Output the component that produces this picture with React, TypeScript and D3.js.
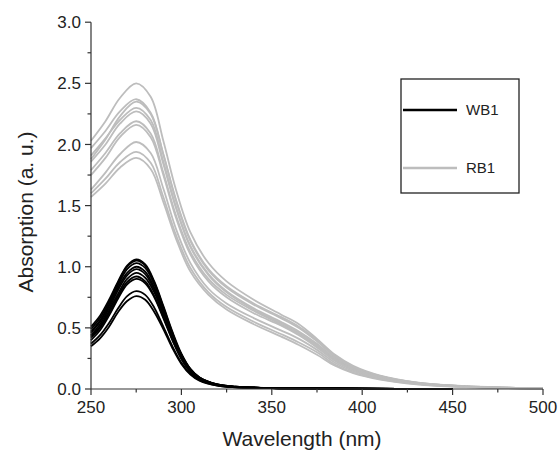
import React from "react";
import * as d3 from "d3";

// Wavelength grids (nm)
const grayWavelengths = [250, 258, 266, 275, 283, 290, 297, 305, 315, 325, 340, 355, 365, 375, 385, 395, 410, 430, 455, 500];
const blackWavelengths = [250, 255, 260, 265, 270, 275, 280, 285, 290, 295, 300, 305, 310, 320, 330, 350, 380, 420, 450];

// RB1 spectra (gray)
const rb1_1 = [2.03, 2.19, 2.38, 2.50, 2.39, 2.03, 1.63, 1.28, 1.03, 0.88, 0.73, 0.61, 0.53, 0.41, 0.28, 0.19, 0.11, 0.055, 0.025, 0.005];
const rb1_2 = [1.97, 2.11, 2.27, 2.37, 2.26, 1.92, 1.54, 1.21, 0.97, 0.83, 0.69, 0.58, 0.50, 0.39, 0.26, 0.18, 0.105, 0.052, 0.024, 0.005];
const rb1_3 = [1.88, 2.04, 2.23, 2.35, 2.25, 1.92, 1.55, 1.22, 0.98, 0.84, 0.70, 0.59, 0.51, 0.40, 0.27, 0.18, 0.105, 0.052, 0.024, 0.005];
const rb1_4 = [1.91, 2.05, 2.20, 2.30, 2.20, 1.86, 1.49, 1.17, 0.94, 0.80, 0.66, 0.55, 0.47, 0.37, 0.25, 0.17, 0.10, 0.05, 0.023, 0.004];
const rb1_5 = [1.86, 2.00, 2.17, 2.27, 2.17, 1.84, 1.48, 1.16, 0.93, 0.79, 0.65, 0.54, 0.46, 0.36, 0.24, 0.165, 0.098, 0.048, 0.022, 0.004];
const rb1_6 = [1.79, 1.93, 2.09, 2.19, 2.09, 1.77, 1.42, 1.12, 0.90, 0.77, 0.64, 0.53, 0.45, 0.35, 0.235, 0.16, 0.095, 0.047, 0.021, 0.004];
const rb1_7 = [1.75, 1.89, 2.06, 2.16, 2.06, 1.75, 1.40, 1.10, 0.88, 0.75, 0.62, 0.52, 0.44, 0.34, 0.23, 0.155, 0.092, 0.045, 0.02, 0.004];
const rb1_8 = [1.63, 1.77, 1.92, 2.02, 1.93, 1.64, 1.31, 1.03, 0.82, 0.70, 0.58, 0.48, 0.41, 0.32, 0.215, 0.145, 0.086, 0.042, 0.019, 0.003];
const rb1_9 = [1.60, 1.72, 1.855, 1.94, 1.85, 1.57, 1.26, 0.99, 0.79, 0.67, 0.55, 0.45, 0.38, 0.30, 0.20, 0.135, 0.08, 0.04, 0.018, 0.003];
const rb1_10 = [1.57, 1.68, 1.81, 1.89, 1.80, 1.53, 1.23, 0.96, 0.77, 0.65, 0.53, 0.43, 0.36, 0.28, 0.19, 0.13, 0.077, 0.038, 0.017, 0.003];

// WB1 spectra (black)
const wb1_1 = [0.51, 0.60, 0.73, 0.88, 1.01, 1.06, 1.02, 0.88, 0.68, 0.47, 0.29, 0.165, 0.095, 0.037, 0.019, 0.008, 0.004, 0.0015, 0];
const wb1_2 = [0.49, 0.58, 0.71, 0.87, 1.00, 1.05, 1.01, 0.87, 0.67, 0.46, 0.28, 0.16, 0.094, 0.037, 0.019, 0.008, 0.004, 0.0015, 0];
const wb1_3 = [0.47, 0.56, 0.69, 0.85, 0.98, 1.03, 0.99, 0.855, 0.66, 0.45, 0.28, 0.16, 0.093, 0.036, 0.019, 0.008, 0.004, 0.0015, 0];
const wb1_4 = [0.46, 0.55, 0.68, 0.83, 0.95, 1.00, 0.96, 0.83, 0.64, 0.44, 0.27, 0.155, 0.09, 0.035, 0.018, 0.008, 0.004, 0.0015, 0];
const wb1_5 = [0.44, 0.53, 0.66, 0.81, 0.93, 0.98, 0.94, 0.81, 0.63, 0.43, 0.265, 0.15, 0.088, 0.034, 0.018, 0.008, 0.004, 0.0015, 0];
const wb1_6 = [0.43, 0.51, 0.64, 0.78, 0.90, 0.95, 0.91, 0.79, 0.61, 0.42, 0.26, 0.147, 0.086, 0.033, 0.017, 0.008, 0.004, 0.0015, 0];
const wb1_7 = [0.42, 0.50, 0.62, 0.76, 0.875, 0.92, 0.88, 0.76, 0.59, 0.405, 0.25, 0.143, 0.083, 0.032, 0.017, 0.008, 0.004, 0.0015, 0];
const wb1_8 = [0.40, 0.48, 0.60, 0.74, 0.855, 0.90, 0.865, 0.75, 0.58, 0.40, 0.245, 0.14, 0.081, 0.032, 0.016, 0.008, 0.004, 0.0015, 0];
const wb1_9 = [0.37, 0.44, 0.54, 0.66, 0.76, 0.80, 0.77, 0.665, 0.51, 0.35, 0.215, 0.124, 0.072, 0.028, 0.014, 0.007, 0.003, 0.001, 0];
const wb1_10 = [0.35, 0.415, 0.51, 0.63, 0.72, 0.76, 0.73, 0.63, 0.49, 0.335, 0.205, 0.118, 0.068, 0.027, 0.014, 0.007, 0.003, 0.001, 0];

const rb1Series = [rb1_1, rb1_2, rb1_3, rb1_4, rb1_5, rb1_6, rb1_7, rb1_8, rb1_9, rb1_10];
const wb1Series = [wb1_1, wb1_2, wb1_3, wb1_4, wb1_5, wb1_6, wb1_7, wb1_8, wb1_9, wb1_10];

const xTicks = [250, 300, 350, 400, 450, 500];
const xMinorTicks = [275, 325, 375, 425, 475];
const yTicks = [0, 0.5, 1.0, 1.5, 2.0, 2.5, 3.0];
const yMinorTicks = [0.25, 0.75, 1.25, 1.75, 2.25, 2.75];
const legendLabels = ["WB1", "RB1"];

const W = 559;
const H = 452;
const FONT = "'Liberation Sans', Arial, sans-serif";
const GRAY = "#bdbdbd";
const AXIS = "#333";

export default function App() {
  const x = d3.scaleLinear().domain([250, 500]).range([91, 543]);
  const y = d3.scaleLinear().domain([0, 3]).range([389, 22.2]);

  const makeLine = (ws: number[]) =>
    d3
      .line<number>()
      .x((_, i) => x(ws[i]))
      .y((v) => y(v))
      .curve(d3.curveCatmullRom.alpha(0.5));

  const grayLine = makeLine(grayWavelengths);
  const blackLine = makeLine(blackWavelengths);

  return (
    <svg
      width={W}
      height={H}
      style={{ position: "absolute", left: 0, top: 0, background: "#fff" }}
      fontFamily={FONT}
    >
      <rect x={0} y={0} width={W} height={H} fill="#fff" />
      {/* curves */}
      <g fill="none">
        {rb1Series.map((s, i) => (
          <path key={"g" + i} d={grayLine(s) || ""} stroke={GRAY} strokeWidth={1.8} />
        ))}
        {wb1Series.map((s, i) => (
          <path key={"b" + i} d={blackLine(s) || ""} stroke="#000" strokeWidth={1.8} />
        ))}
      </g>

      {/* axes */}
      <g stroke={AXIS} strokeWidth={1.2} fill="none">
        <line x1={x(250)} x2={x(500)} y1={y(0)} y2={y(0)} />
        <line x1={x(250)} x2={x(250)} y1={y(0)} y2={y(3)} />
        {xTicks.map((t) => (
          <line key={"xt" + t} x1={x(t)} x2={x(t)} y1={y(0)} y2={y(0) + 6} />
        ))}
        {xMinorTicks.map((t) => (
          <line key={"xm" + t} x1={x(t)} x2={x(t)} y1={y(0)} y2={y(0) + 3.5} />
        ))}
        {yTicks.map((t) => (
          <line key={"yt" + t} x1={x(250) - 6} x2={x(250)} y1={y(t)} y2={y(t)} />
        ))}
        {yMinorTicks.map((t) => (
          <line key={"ym" + t} x1={x(250) - 3.5} x2={x(250)} y1={y(t)} y2={y(t)} />
        ))}
      </g>
      <g fontSize={17} fill="#222">
        {xTicks.map((t) => (
          <text key={"xl" + t} x={x(t)} y={y(0) + 24} textAnchor="middle">
            {t}
          </text>
        ))}
        {yTicks.map((t) => (
          <text key={"yl" + t} x={x(250) - 10} y={y(t)} dy="0.36em" textAnchor="end">
            {t.toFixed(1)}
          </text>
        ))}
      </g>
      <text x={302} y={446} textAnchor="middle" fontSize={21} fill="#222">
        Wavelength (nm)
      </text>
      <text
        transform={`translate(33, ${212}) rotate(-90)`}
        textAnchor="middle"
        fontSize={21}
        fill="#222"
      >
        Absorption (a. u.)
      </text>

      {/* legend */}
      <rect x={401} y={79} width={118} height={114} fill="#fff" stroke="#222" strokeWidth={1.3} />
      <line x1={403} x2={457} y1={110} y2={110} stroke="#000" strokeWidth={2.5} />
      <line x1={403} x2={457} y1={168} y2={168} stroke={GRAY} strokeWidth={2.5} />
      <text x={466} y={110} dy="0.36em" fontSize={15} fill="#222">
        {legendLabels[0]}
      </text>
      <text x={466} y={168} dy="0.36em" fontSize={15} fill="#222">
        {legendLabels[1]}
      </text>
    </svg>
  );
}
